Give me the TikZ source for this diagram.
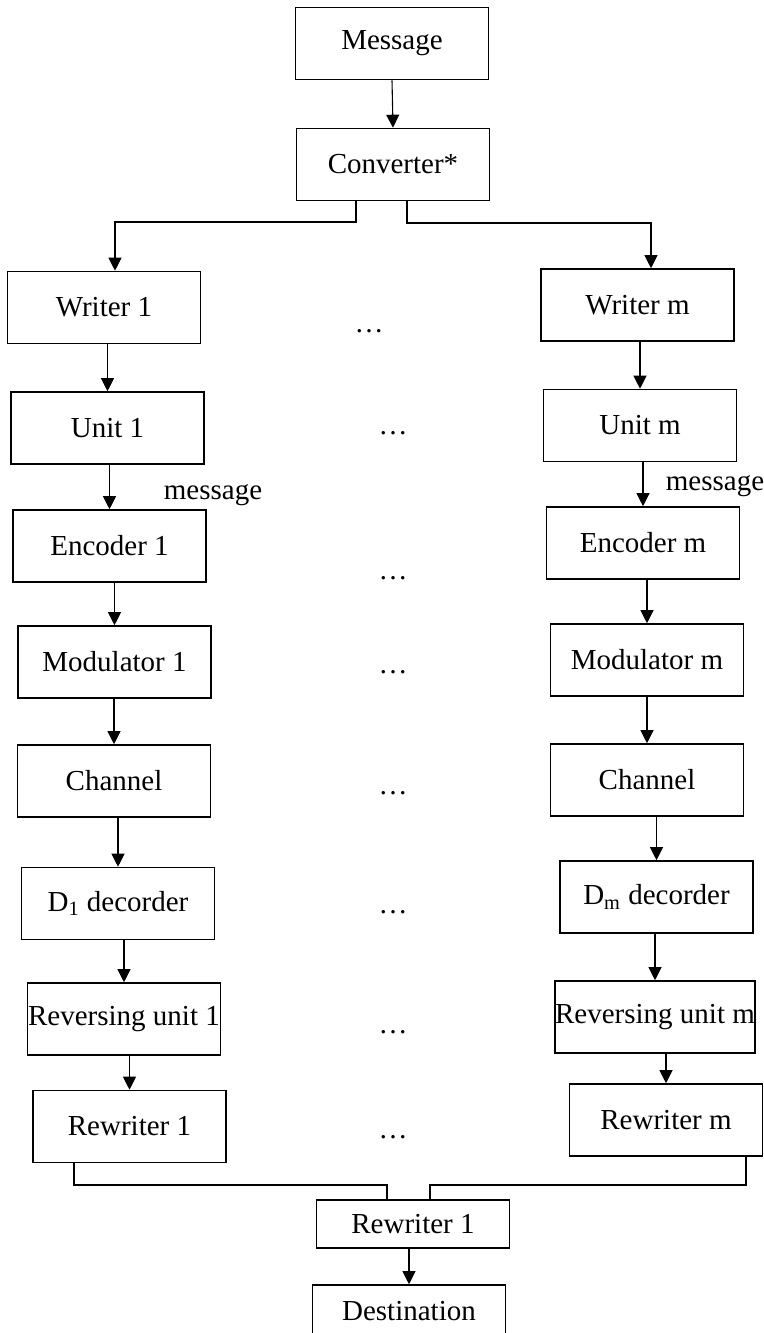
\documentclass[tikz,border=0pt]{standalone}
\usepackage{fontspec}
\setmainfont{Liberation Serif}
\usetikzlibrary{arrows.meta}

\begin{document}
\begin{tikzpicture}[
        x=0.5pt, y=-0.5pt,
        every node/.style={font=\fontsize{14.5}{17}\selectfont},
        block/.style={draw, line width=0.8pt, minimum width=96.5pt, minimum height=36pt, inner sep=0pt},
        link/.style={line width=0.55pt},
        arr/.style={link, -{Triangle[length=6.5pt,width=6.5pt]}},
        gap/.style={inner sep=0pt},
    ]
    \path[use as bounding box, fill=white] (0,0) rectangle (764,1333);
    % source
    \node[block] (msg) at (392,43.5) {Message};
    \node[block] (conv) at (393,164.5) {Converter*};
    % branch 1
    \node[block] (wr1) at (104,307.5) {Writer 1};
    \node[block] (un1) at (107.5,428) {Unit 1};
    \node[block] (enc1) at (109.5,546) {Encoder 1};
    \node[block] (mod1) at (114.5,662) {Modulator 1};
    \node[block] (ch1) at (114,781) {Channel};
    \node[block] (d1) at (118,903.5) {D\textsubscript{1} decorder};
    \node[block] (rev1) at (124,1019) {Reversing unit 1};
    \node[block] (rew1) at (129.5,1126.5) {Rewriter 1};
    % branch m
    \node[block] (wrm) at (637.5,305) {Writer m};
    \node[block] (unm) at (640,425.5) {Unit m};
    \node[block] (encm) at (643,543) {Encoder m};
    \node[block] (modm) at (647,660) {Modulator m};
    \node[block] (chm) at (647,780) {Channel};
    \node[block] (dm) at (656.5,897) {D\textsubscript{m} decorder};
    \node[block] (revm) at (655,1017) {Reversing unit m};
    \node[block] (rewm) at (666,1120) {Rewriter m};
    % sink
    \node[block, minimum height=24pt] (rewb) at (413,1224) {Rewriter 1};
    \node[block, minimum height=26pt] (dest) at (409,1311) {Destination};
    % labels
    \node[gap] (lab1) at (213,495) {message};
    \node[gap] (labm) at (715,486) {message};
    % dots between the branches
    \node[gap] (dw) at (369,331) {…};
    \foreach \y [count=\i] in {433,578,672,793,912,1032,1137}
        \node[gap] (dots\i) at (393,\y) {…};
    % arrows
    \draw[arr] (msg.south) -- (conv.north);
    \coordinate (sl) at (356,222);
    \coordinate (sr) at (407,223);
    \draw[arr] (conv.south -| sl) -- (sl) -| ([xshift=5.5pt]wr1.north);
    \draw[arr] (conv.south -| sr) -- (sr) -| ([xshift=6.75pt]wrm.north);
    \foreach \a/\b in {wr1/un1, un1/enc1, enc1/mod1, mod1/ch1, ch1/d1, d1/rev1, rev1/rew1,
                       wrm/unm, unm/encm, encm/modm, modm/chm, chm/dm, dm/revm, revm/rewm}
        \draw[arr] (\a.south -| \b.north) -- (\b.north);
    % merge
    \coordinate (ml) at (387,1185);
    \coordinate (mr) at (430,1185);
    \draw[link] ([xshift=-27.75pt]rew1.south) |- (ml) -- (rewb.north -| ml);
    \draw[link] ([xshift=40pt]rewm.south) |- (mr) -- (rewb.north -| mr);
    \draw[arr] (rewb.south -| dest.north) -- (dest.north);
\end{tikzpicture}
\end{document}
